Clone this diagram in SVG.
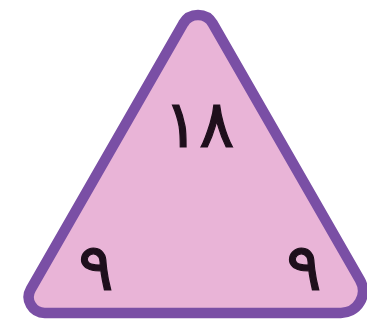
<svg xmlns="http://www.w3.org/2000/svg" width="367" height="321" viewBox="0 0 367 321">
<style>
.tri{fill:#e9b4d7;stroke:#7a4fa5;stroke-width:10.5;stroke-linejoin:round}
.num{font-family:"DejaVu Sans","Noto Sans",sans-serif;font-size:66px;fill:#1e0f1c;stroke:#1e0f1c;stroke-width:1.2;text-anchor:middle}
</style>
<rect width="367" height="321" fill="#ffffff"/>
<g id="triangle">
<path class="tri" d="M183.3,23.5 A17,17 0 0 1 212.7,23.5 L359.95,280 A22,22 0 0 1 340.9,313 L44.7,313 A16,16 0 0 1 30.85,289 Z"/>
</g>
<g id="top-label"><text class="num" x="199" y="147" letter-spacing="6">١٨</text></g>
<g id="left-label"><text class="num" x="96" y="290">٩</text></g>
<g id="right-label"><text class="num" x="304" y="290">٩</text></g>
<g id="connectors"></g>
</svg>
